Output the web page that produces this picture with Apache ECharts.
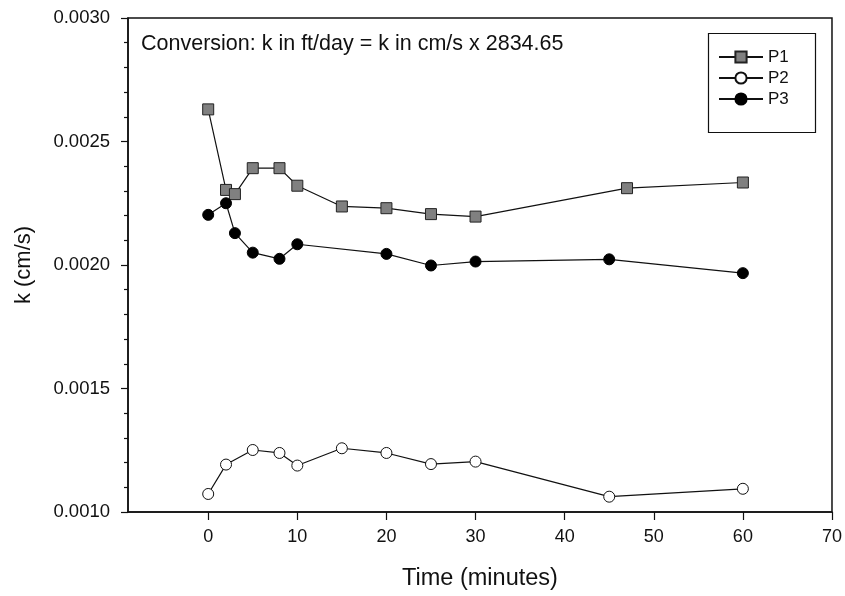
<!DOCTYPE html>
<html>
<head>
<meta charset="utf-8">
<script src="https://cdn.jsdelivr.net/npm/echarts@6/dist/echarts.min.js"></script>
<style>
html,body{margin:0;padding:0;background:#fff;}
#chart{width:845px;height:596px;}
</style>
</head>
<body>
<div id="chart"></div>
<script>
// ---- data ----
const p1Time = [0, 2, 3, 5, 8, 10, 15, 20, 25, 30, 47, 60];
const p1K = [0.00263, 0.002304, 0.002287, 0.002392, 0.002392, 0.002321, 0.002237, 0.00223, 0.002206, 0.002196, 0.002311, 0.002334];
const p2Time = [0, 2, 5, 8, 10, 15, 20, 25, 30, 45, 60];
const p2K = [0.001073, 0.001192, 0.001251, 0.001239, 0.001188, 0.001258, 0.001239, 0.001194, 0.001204, 0.001062, 0.001094];
const p3Time = [0, 2, 3, 5, 8, 10, 20, 25, 30, 45, 60];
const p3K = [0.002203, 0.00225, 0.002129, 0.00205, 0.002025, 0.002084, 0.002045, 0.001998, 0.002014, 0.002023, 0.001967];
const xTicks = [0, 10, 20, 30, 40, 50, 60, 70];
const seriesNames = ['P1', 'P2', 'P3'];
const noteText = 'Conversion: k in ft/day = k in cm/s x 2834.65';
const xTitle = 'Time (minutes)';
const yTitle = 'k (cm/s)';

function pairs(xs, ys) { return xs.map((x, i) => [x, ys[i]]); }

const FONT = 'Liberation Sans, Arial, sans-serif';
const chart = echarts.init(document.getElementById('chart'), null, {renderer: 'canvas'});

const lineStyle = {color: '#111', width: 1.2};

chart.setOption({
  animation: false,
  backgroundColor: '#fff',
  textStyle: {fontFamily: FONT},
  grid: {left: 128, right: 12, top: 18, bottom: 84, show: true, borderColor: '#111', borderWidth: 1.5, containLabel: false},
  title: {
    text: noteText, left: 136, top: 28,
    textStyle: {fontFamily: FONT, fontSize: 21.5, fontWeight: 'normal', color: '#111'}
  },
  graphic: [{
    type: 'rect', left: 706, top: 31,
    shape: {width: 107, height: 99},
    style: {fill: 'none', stroke: '#111', lineWidth: 1.2}
  }],
  legend: {
    orient: 'vertical', left: 718, top: 47, padding: 0,
    itemWidth: 44, itemHeight: 14, itemGap: 1,
    textStyle: {fontFamily: FONT, fontSize: 17, lineHeight: 20, color: '#111'},
    data: seriesNames
  },
  xAxis: {
    type: 'value', min: -9, max: 70,
    name: xTitle, nameLocation: 'middle', nameGap: 55,
    nameTextStyle: {fontFamily: FONT, fontSize: 23.5, color: '#111'},
    axisLine: {show: true, onZero: false, lineStyle: {color: '#111', width: 1.5}},
    axisTick: {show: true, inside: false, length: 8, customValues: xTicks, lineStyle: {color: '#111', width: 1.2}},
    axisLabel: {show: true, margin: 16, customValues: xTicks, fontFamily: FONT, fontSize: 18, color: '#111'},
    splitLine: {show: false}
  },
  yAxis: {
    type: 'value', min: 0.001, max: 0.003, interval: 0.0005,
    name: yTitle, nameLocation: 'middle', nameGap: 93,
    nameTextStyle: {fontFamily: FONT, fontSize: 22, color: '#111'},
    axisLine: {show: true, onZero: false, lineStyle: {color: '#111', width: 1.5}},
    axisTick: {show: true, inside: false, length: 7, lineStyle: {color: '#111', width: 1.2}},
    minorTick: {show: true, splitNumber: 5, length: 4, lineStyle: {color: '#111', width: 1.2}},
    axisLabel: {show: true, margin: 18, fontFamily: FONT, fontSize: 18.5, color: '#111',
      formatter: v => v.toFixed(4)},
    splitLine: {show: false}
  },
  series: [
    {
      name: seriesNames[0], type: 'line', data: pairs(p1Time, p1K),
      symbol: 'rect', symbolSize: 11, showSymbol: true,
      lineStyle: lineStyle,
      itemStyle: {color: '#808080', borderColor: '#222', borderWidth: 1}
    },
    {
      name: seriesNames[1], type: 'line', data: pairs(p2Time, p2K),
      symbol: 'circle', symbolSize: 11, showSymbol: true,
      lineStyle: lineStyle,
      itemStyle: {color: '#fff', borderColor: '#111', borderWidth: 1}
    },
    {
      name: seriesNames[2], type: 'line', data: pairs(p3Time, p3K),
      symbol: 'circle', symbolSize: 11, showSymbol: true,
      lineStyle: lineStyle,
      itemStyle: {color: '#000', borderColor: '#000', borderWidth: 1}
    }
  ]
});
</script>
</body>
</html>
